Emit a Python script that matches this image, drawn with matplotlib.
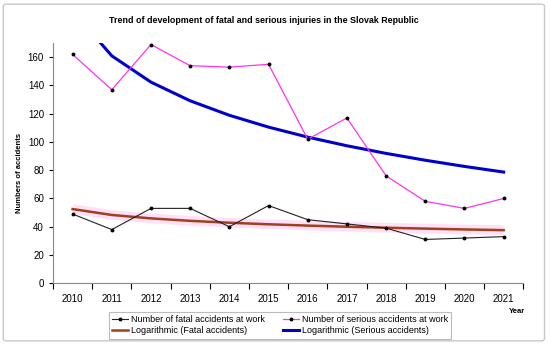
import numpy as np
import matplotlib
matplotlib.use("Agg")
import matplotlib.pyplot as plt
from matplotlib.patches import FancyBboxPatch

years = [2010, 2011, 2012, 2013, 2014, 2015, 2016, 2017, 2018, 2019, 2020, 2021]
fatal = [49, 38, 53, 53, 40, 55, 45, 42, 39, 31, 32, 33]
serious = [162, 137, 169, 154, 153, 155, 102, 117, 76, 58, 53, 60]

plt.rcParams['font.family'] = ['Liberation Sans', 'DejaVu Sans']

fig = plt.figure(figsize=(5.5, 3.45), dpi=100)
ax = fig.add_axes([0.0964, 0.179, 0.855, 0.696])

x = np.arange(len(years))
lnx = np.log(x + 1)

def logfit(y):
    a, b = np.polyfit(lnx, np.asarray(y, float), 1)
    return a * lnx + b

fatal_trend = logfit(fatal)
serious_trend = logfit(serious)

ax.plot(x, fatal_trend, color='#ffa8ec', lw=7, alpha=0.35, solid_capstyle='butt', zorder=1)
l3, = ax.plot(x, fatal_trend, color='#a0401c', lw=1.8, zorder=2)
l4, = ax.plot(x, serious_trend, color='#0000cc', lw=2.2, zorder=2)
l1, = ax.plot(x, fatal, color='#222222', lw=0.8, marker='o', ms=1.8, mfc='black', mec='black', zorder=3)
l2, = ax.plot(x, serious, color='#ff33ee', lw=0.9, marker='o', ms=1.8, mfc='black', mec='black', zorder=3)

ax.set_xlim(-0.5, len(years) - 0.5)
ax.set_ylim(0, 170)
ax.set_yticks(range(0, 161, 20))
ax.set_xticks(x)
ax.set_xticklabels([str(y) for y in years], fontsize=7)
ax.set_xticks(np.arange(-0.5, len(years), 1), minor=True)
ax.tick_params(axis='x', which='major', length=0, pad=8)
ax.tick_params(axis='x', which='minor', length=4, direction='out', width=0.8)
ax.tick_params(axis='y', labelsize=7, length=3, width=0.8)
for s in ['top', 'right']:
    ax.spines[s].set_visible(False)
for s in ['left', 'bottom']:
    ax.spines[s].set_color('#888888')
    ax.spines[s].set_linewidth(0.8)

fig.text(0.479, 0.942, 'Trend of development of fatal and serious injuries in the Slovak Republic',
         ha='center', va='center', fontsize=6.4, fontweight='bold')
fig.text(0.035, 0.5, 'Numbers of accidents', rotation=90, ha='center', va='center',
         fontsize=5.5, fontweight='bold')
fig.text(0.94, 0.098, 'Year', ha='center', va='center', fontsize=5.5, fontweight='bold')

leg = fig.legend([l1, l3, l2, l4],
                 ['Number of fatal accidents at work', 'Logarithmic (Fatal accidents)',
                  'Number of serious accidents at work', 'Logarithmic (Serious accidents)'],
                 ncol=2, loc='center', bbox_to_anchor=(0.509, 0.057), fontsize=6.5,
                 frameon=True, fancybox=False, edgecolor='#aaaaaa', handlelength=1.8,
                 handletextpad=0.3, columnspacing=2.0, labelspacing=0.25, borderpad=0.35)
leg.get_frame().set_linewidth(0.8)

border = FancyBboxPatch((0.006, 0.012), 0.984, 0.976, boxstyle='round,pad=0,rounding_size=0.006',
                        transform=fig.transFigure, fill=False, edgecolor='#c8c8c8', lw=1.0)
fig.patches.append(border)

fig.savefig('out.png', dpi=100)
